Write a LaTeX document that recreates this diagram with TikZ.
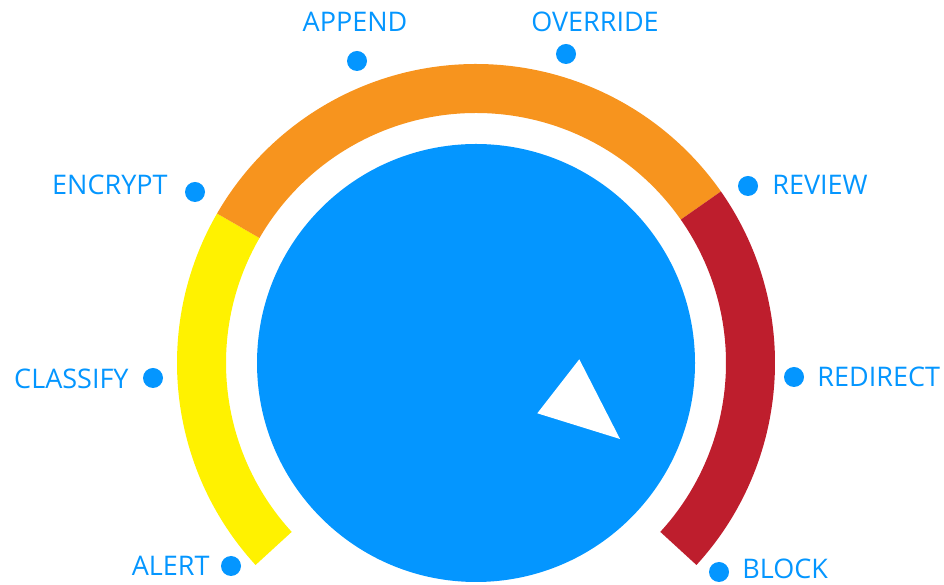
\documentclass[tikz,border=0pt]{standalone}
\usepackage{fontspec}
\setmainfont{Open Sans}
\usetikzlibrary{positioning}

\definecolor{dialblue}{RGB}{4,150,255}
\definecolor{bandyellow}{RGB}{255,242,0}
\definecolor{bandorange}{RGB}{247,148,30}
\definecolor{bandred}{RGB}{190,30,45}

\begin{document}
\begin{tikzpicture}[
  x=1pt, y=1pt,
  tick/.style={circle, fill=dialblue, inner sep=0pt, minimum size=20pt},
  tag/.style={text=dialblue, font=\fontsize{27}{32}\selectfont, inner sep=0pt}
]
\useasboundingbox (0,0) rectangle (944,585);

% Bands and dial
\begin{scope}[shift={(476,222)}]
\foreach \from/\to/\col in {150/222.5/bandyellow, 35/150/bandorange, -42.5/35/bandred}
  \fill[\col] (\from:299) arc[start angle=\from, end angle=\to, radius=299]
    -- (\to:250) arc[start angle=\to, end angle=\from, radius=250] -- cycle;
\fill[dialblue] (0,0) circle[radius=219];
\end{scope}

% Pointer
\fill[white] (579.3,225.7) -- (537.3,171.7) -- (620,146) -- cycle;

% Dots
\node[tick] (alert) at (231,19) {};
\node[tick] (classify) at (153,207) {};
\node[tick] (encrypt) at (195,393) {};
\node[tick] (append) at (357,524) {};
\node[tick] (override) at (566,531) {};
\node[tick] (review) at (748,399) {};
\node[tick] (redirect) at (794,208) {};
\node[tick] (block) at (719,13) {};

% Labels
\node[tag, left=11pt of alert] {ALERT};
\node[tag, left=14pt of classify, yshift=-1pt] {CLASSIFY};
\node[tag, left=17pt of encrypt, yshift=7pt] {ENCRYPT};
\node[tag, above=19pt of append, xshift=-2pt] {APPEND};
\node[tag, above=12pt of override, xshift=29pt] {OVERRIDE};
\node[tag, right=14pt of review, yshift=1pt] {REVIEW};
\node[tag, right=13pt of redirect] {REDIRECT};
\node[tag, right=13pt of block, yshift=3pt] {BLOCK};

\end{tikzpicture}
\end{document}
